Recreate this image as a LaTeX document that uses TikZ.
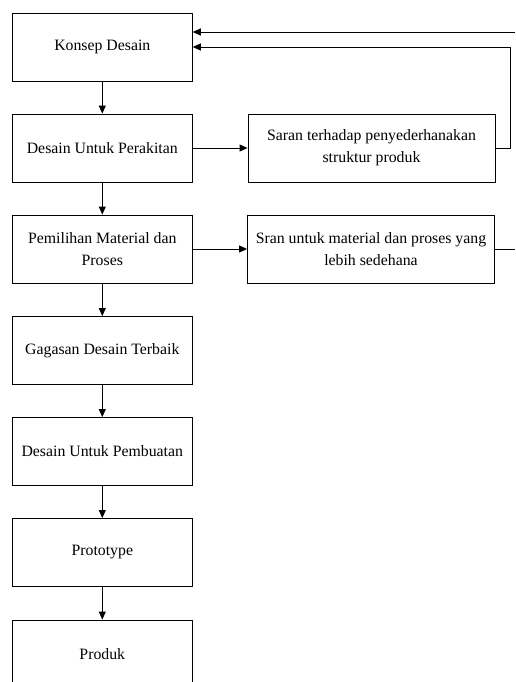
\documentclass[tikz,border=0pt]{standalone}
\usepackage{fontspec}
\setmainfont{Liberation Serif}
\usetikzlibrary{arrows.meta}
\begin{document}
\begin{tikzpicture}[x=1pt,y=-1pt,
  box/.style={draw=black,line width=0.9pt,minimum width=180pt,minimum height=68pt,inner sep=0pt,align=center,font=\fontsize{15.8}{21.7}\selectfont},
  rbox/.style={box,minimum width=247pt},
  conn/.style={line width=0.9pt,-{Triangle[length=8pt,width=7pt]}},
  plain/.style={line width=0.9pt}]
\clip (0,0) rectangle (515,682);
\fill[white] (0,0) rectangle (515,682);
\node[box] (k) at (102.3,47) {Konsep Desain};
\node[box] (dp) at (102.3,148) {Desain Untuk Perakitan};
\node[box] (pm) at (102.3,249) {Pemilihan Material dan\\Proses};
\node[box] (g) at (102.3,350.5) {Gagasan Desain Terbaik};
\node[box] (db) at (102.3,451.5) {Desain Untuk Pembuatan};
\node[box] (pt) at (102.3,552.5) {Prototype};
\node[box] (pr) at (102.3,654) {Produk};
\node[rbox] (s1) at (371.5,148) {Saran terhadap penyederhanakan\\struktur produk};
\node[rbox] (s2) at (371,249) {Sran untuk material dan proses yang\\lebih sedehana};
\coordinate (e1) at (515,32);
\coordinate (e2) at (515,249);
\coordinate (c1) at (510,148);
\coordinate (c2) at (510,47);
\draw[conn] (k) -- (dp);
\draw[conn] (dp) -- (pm);
\draw[conn] (pm) -- (g);
\draw[conn] (g) -- (db);
\draw[conn] (db) -- (pt);
\draw[conn] (pt) -- (pr);
\draw[conn] (dp) -- (s1);
\draw[conn] (pm) -- (s2);
\draw[conn] (e1) -- (e1 -| k.east);
\draw[conn] (s1.east) -- (c1) -- (c2) -- (c2 -| k.east);
\draw[plain] (s2.east) -- (e2);
\end{tikzpicture}
\end{document}
